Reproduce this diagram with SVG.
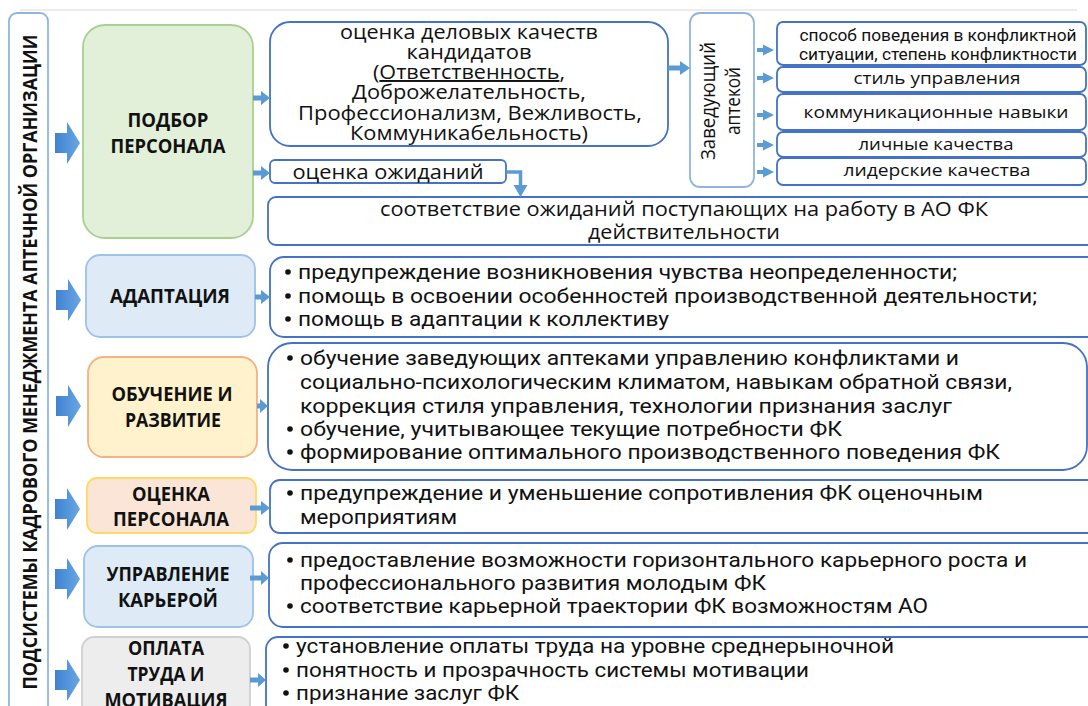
<svg xmlns="http://www.w3.org/2000/svg" width="1088" height="706" viewBox="0 0 1088 706">
<defs>
<linearGradient id="bg" x1="0" y1="0" x2="1" y2="0">
<stop offset="0" stop-color="#3F82D2"/>
<stop offset="1" stop-color="#6AA7E2"/>
</linearGradient>
<style>
.big{fill:url(#bg);}
.sm{fill:#5B9BD5;}
.box{fill:#fff;stroke:#4472C4;stroke-width:1.8;}
.lbox{fill:#fff;stroke:#8FB4E3;stroke-width:1.8;}
.lbl{font-family:"Open Sans","Liberation Sans",sans-serif;font-weight:bold;font-size:19px;fill:#111;text-anchor:middle;}
.w{font-family:"Open Sans","Liberation Sans",sans-serif;font-size:19.5px;fill:#111;}
.n{font-family:Roboto,"Liberation Sans",sans-serif;font-size:20px;fill:#111;}
.c{text-anchor:middle;}
.g{font-size:17px;}
.b{fill:#111;}
</style>
</defs>
<rect width="1088" height="706" fill="#fff"/>
<line x1="20" y1="10" x2="1077" y2="10" stroke="#E6E6E6" stroke-width="1.5"/>

<g id="title">
<rect x="9" y="13" width="39" height="710" rx="8" fill="#fff" stroke="#8FB4E3" stroke-width="1.8"/>
<text class="lbl" transform="translate(37,362) rotate(-90)" textLength="655" lengthAdjust="spacingAndGlyphs">ПОДСИСТЕМЫ КАДРОВОГО МЕНЕДЖМЕНТА  АПТЕЧНОЙ ОРГАНИЗАЦИИ</text>
</g>

<g id="node-podbor">
<rect x="83" y="25" width="170" height="213" rx="22" fill="#E2F0D9" stroke="#A9D18E" stroke-width="1.8"/>
<text class="lbl" x="168" y="127" textLength="81" lengthAdjust="spacingAndGlyphs">ПОДБОР</text>
<text class="lbl" x="168" y="153" textLength="115" lengthAdjust="spacingAndGlyphs">ПЕРСОНАЛА</text>
</g>
<g id="node-adapt">
<rect x="86" y="255" width="169" height="82" rx="14" fill="#DEEBF7" stroke="#9DC3E6" stroke-width="1.8"/>
<text class="lbl" x="170" y="303" textLength="120" lengthAdjust="spacingAndGlyphs">АДАПТАЦИЯ</text>
</g>
<g id="node-obuch">
<rect x="88" y="357" width="169" height="100" rx="16" fill="#FFF2CC" stroke="#F4B183" stroke-width="1.8"/>
<text class="lbl" x="172" y="401" textLength="121" lengthAdjust="spacingAndGlyphs">ОБУЧЕНИЕ И</text>
<text class="lbl" x="173" y="427" textLength="96" lengthAdjust="spacingAndGlyphs">РАЗВИТИЕ</text>
</g>
<g id="node-ocenka">
<rect x="87" y="478" width="169" height="55" rx="10" fill="#FBE5D6" stroke="#FFD966" stroke-width="1.8"/>
<text class="lbl" x="171" y="501" textLength="78" lengthAdjust="spacingAndGlyphs">ОЦЕНКА</text>
<text class="lbl" x="171" y="526" textLength="116" lengthAdjust="spacingAndGlyphs">ПЕРСОНАЛА</text>
</g>
<g id="node-karera">
<rect x="84" y="546" width="169" height="81" rx="14" fill="#DEEBF7" stroke="#9DC3E6" stroke-width="1.8"/>
<text class="lbl" x="168" y="581" textLength="123" lengthAdjust="spacingAndGlyphs">УПРАВЛЕНИЕ</text>
<text class="lbl" x="168" y="607" textLength="100" lengthAdjust="spacingAndGlyphs">КАРЬЕРОЙ</text>
</g>
<g id="node-oplata">
<rect x="82" y="637" width="168" height="80" rx="12" fill="#EDEDED" stroke="#D0D0D0" stroke-width="1.8"/>
<text class="lbl" x="166" y="655" textLength="76" lengthAdjust="spacingAndGlyphs">ОПЛАТА</text>
<text class="lbl" x="166" y="681" textLength="77" lengthAdjust="spacingAndGlyphs">ТРУДА И</text>
<text class="lbl" x="166" y="707" textLength="123" lengthAdjust="spacingAndGlyphs">МОТИВАЦИЯ</text>
</g>

<g id="box-kachestva">
<rect class="box" x="270" y="22" width="398" height="124" rx="20"/>
<text class="w c" x="469" y="39" textLength="258" lengthAdjust="spacingAndGlyphs">оценка деловых качеств</text>
<text class="w c" x="469" y="59" textLength="125" lengthAdjust="spacingAndGlyphs">кандидатов</text>
<text class="w c" x="469" y="79" textLength="192" lengthAdjust="spacingAndGlyphs">(<tspan text-decoration="underline">Ответственность</tspan>,</text>
<text class="w c" x="469" y="99" textLength="234" lengthAdjust="spacingAndGlyphs">Доброжелательность,</text>
<text class="w c" x="470" y="120" textLength="344" lengthAdjust="spacingAndGlyphs">Профессионализм, Вежливость,</text>
<text class="w c" x="469" y="140" textLength="238" lengthAdjust="spacingAndGlyphs">Коммуникабельность)</text>
</g>
<g id="box-ozhidaniy">
<rect class="box" x="270" y="160" width="236" height="23" rx="5"/>
<text class="w c" x="388" y="179" textLength="191" lengthAdjust="spacingAndGlyphs">оценка ожиданий</text>
</g>
<g id="box-sootvetstvie">
<rect class="box" x="268" y="197" width="840" height="48" rx="8"/>
<text class="w c" x="684" y="216" textLength="608" lengthAdjust="spacingAndGlyphs">соответствие ожиданий поступающих на работу в АО ФК</text>
<text class="w c" x="684" y="239" textLength="192" lengthAdjust="spacingAndGlyphs">действительности</text>
</g>
<g id="box-zaveduyushchiy">
<rect class="lbox" x="690" y="13" width="64" height="174" rx="10"/>
<text class="w c" font-size="18" transform="translate(715,101) rotate(-90)" textLength="118" lengthAdjust="spacingAndGlyphs">Заведующий</text>
<text class="w c" font-size="18" transform="translate(740,101) rotate(-90)" textLength="68" lengthAdjust="spacingAndGlyphs">аптекой</text>
</g>
<g id="box-g1">
<rect class="box" x="777" y="22" width="309" height="43" rx="6"/>
<text class="n c g" x="938" y="41" textLength="277" lengthAdjust="spacingAndGlyphs">способ поведения в конфликтной</text>
<text class="n c g" x="938" y="60" textLength="278" lengthAdjust="spacingAndGlyphs">ситуации, степень конфликтности</text>
</g>
<g id="box-g2">
<rect class="box" x="777" y="67" width="309" height="25" rx="6"/>
<text class="w c g" x="937" y="84" textLength="167" lengthAdjust="spacingAndGlyphs">стиль управления</text>
</g>
<g id="box-g3">
<rect class="box" x="777" y="94" width="309" height="36" rx="6"/>
<text class="w c g" x="936" y="118" textLength="265" lengthAdjust="spacingAndGlyphs">коммуникационные навыки</text>
</g>
<g id="box-g4">
<rect class="box" x="777" y="132" width="309" height="25" rx="6"/>
<text class="w c g" x="936" y="150" textLength="155" lengthAdjust="spacingAndGlyphs">личные качества</text>
</g>
<g id="box-g5">
<rect class="box" x="777" y="158" width="309" height="27" rx="6"/>
<text class="w c g" x="937" y="176" textLength="187" lengthAdjust="spacingAndGlyphs">лидерские качества</text>
</g>

<g id="list-adapt">
<rect class="box" x="270" y="257" width="840" height="80" rx="14"/>
<circle class="b" cx="288" cy="272" r="2.8"/><text class="n" x="298" y="279" textLength="659" lengthAdjust="spacingAndGlyphs">предупреждение возникновения чувства неопределенности;</text>
<circle class="b" cx="288" cy="296" r="2.8"/><text class="n" x="298" y="303" textLength="739" lengthAdjust="spacingAndGlyphs">помощь в освоении особенностей производственной деятельности;</text>
<circle class="b" cx="288" cy="319" r="2.8"/><text class="n" x="298" y="326" textLength="371" lengthAdjust="spacingAndGlyphs">помощь в адаптации к коллективу</text>
</g>
<g id="list-obuch">
<rect class="box" x="268" y="343" width="819" height="127" rx="24"/>
<circle class="b" cx="290" cy="358" r="2.8"/><text class="n" x="300" y="365" textLength="659" lengthAdjust="spacingAndGlyphs">обучение заведующих аптеками управлению конфликтами и</text>
<text class="n" x="300" y="389" textLength="712" lengthAdjust="spacingAndGlyphs">социально-психологическим  климатом, навыкам обратной связи,</text>
<text class="n" x="300" y="413" textLength="652" lengthAdjust="spacingAndGlyphs">коррекция стиля управления, технологии признания заслуг</text>
<circle class="b" cx="290" cy="429" r="2.8"/><text class="n" x="300" y="436" textLength="542" lengthAdjust="spacingAndGlyphs">обучение, учитывающее текущие потребности ФК</text>
<circle class="b" cx="290" cy="452" r="2.8"/><text class="n" x="300" y="459" textLength="700" lengthAdjust="spacingAndGlyphs">формирование оптимального производственного поведения ФК</text>
</g>
<g id="list-ocenka">
<rect class="box" x="270" y="480" width="840" height="53" rx="10"/>
<circle class="b" cx="290" cy="493" r="2.8"/><text class="n" x="300" y="500" textLength="683" lengthAdjust="spacingAndGlyphs">предупреждение и уменьшение сопротивления ФК оценочным</text>
<text class="n" x="300" y="524" textLength="157" lengthAdjust="spacingAndGlyphs">мероприятиям</text>
</g>
<g id="list-karera">
<rect class="box" x="269" y="543" width="840" height="84" rx="14"/>
<circle class="b" cx="290" cy="560" r="2.8"/><text class="n" x="300" y="567" textLength="727" lengthAdjust="spacingAndGlyphs">предоставление возможности горизонтального карьерного роста и</text>
<text class="n" x="300" y="590" textLength="466" lengthAdjust="spacingAndGlyphs">профессионального развития молодым ФК</text>
<circle class="b" cx="290" cy="606" r="2.8"/><text class="n" x="300" y="613" textLength="628" lengthAdjust="spacingAndGlyphs">соответствие карьерной траектории ФК возможностям АО</text>
</g>
<g id="list-oplata">
<rect class="box" x="266" y="637" width="840" height="80" rx="12"/>
<circle class="b" cx="286" cy="646" r="2.8"/><text class="n" x="296" y="653" textLength="598" lengthAdjust="spacingAndGlyphs">установление оплаты труда на уровне среднерыночной</text>
<circle class="b" cx="286" cy="670" r="2.8"/><text class="n" x="296" y="677" textLength="513" lengthAdjust="spacingAndGlyphs">понятность и прозрачность системы мотивации</text>
<circle class="b" cx="286" cy="693" r="2.8"/><text class="n" x="296" y="700" textLength="223" lengthAdjust="spacingAndGlyphs">признание заслуг ФК</text>
</g>

<g id="connectors">
<path class="big" d="M55,133 H67 V122 L80,143 L67,164 V153 H55 Z"/>
<path class="big" d="M56,290 H68 V279 L81,300 L68,321 V310 H56 Z"/>
<path class="big" d="M56,396 H68 V385 L81,406 L68,427 V416 H56 Z"/>
<path class="big" d="M55,499 H67 V488 L80,509 L67,530 V519 H55 Z"/>
<path class="big" d="M55,569 H67 V558 L80,579 L67,600 V589 H55 Z"/>
<path class="big" d="M55,670 H67 V659 L80,680 L67,701 V690 H55 Z"/>

<path class="sm" d="M253,95.5 H261 V91 L270,98 L261,105 V100.5 H253 Z"/>
<path class="sm" d="M253,170.5 H261 V166 L270,173 L261,180 V175.5 H253 Z"/>
<path class="sm" d="M255,294.5 H261 V290 L270,297 L261,304 V299.5 H255 Z"/>
<path class="sm" d="M257,403.5 H260 V399 L268,406 L260,413 V408.5 H257 Z"/>
<path class="sm" d="M250,505.5 H261 V501 L270,508 L261,515 V510.5 H250 Z"/>
<path class="sm" d="M250,575.5 H261 V571 L269,578 L261,585 V580.5 H250 Z"/>
<path class="sm" d="M250,677.5 H258 V673 L266,680 L258,687 V682.5 H250 Z"/>
<path class="sm" d="M668,65.5 H680 V61 L690,68 L680,75 V70.5 H668 Z"/>

<path class="sm" d="M757,48 H763 V44.5 L774,50 L763,55.5 V52 H757 Z"/>
<path class="sm" d="M757,76 H763 V72.5 L774,78 L763,83.5 V80 H757 Z"/>
<path class="sm" d="M757,113 H763 V109.5 L774,115 L763,120.5 V117 H757 Z"/>
<path class="sm" d="M757,143 H763 V139.5 L774,145 L763,150.5 V147 H757 Z"/>
<path class="sm" d="M757,170 H763 V166.5 L774,172 L763,177.5 V174 H757 Z"/>

<path d="M506,172 H520.5 V186" fill="none" stroke="#5B9BD5" stroke-width="3.5"/>
<path class="sm" d="M513.5,185 H527.5 L520.5,197 Z"/>
</g>
</svg>
